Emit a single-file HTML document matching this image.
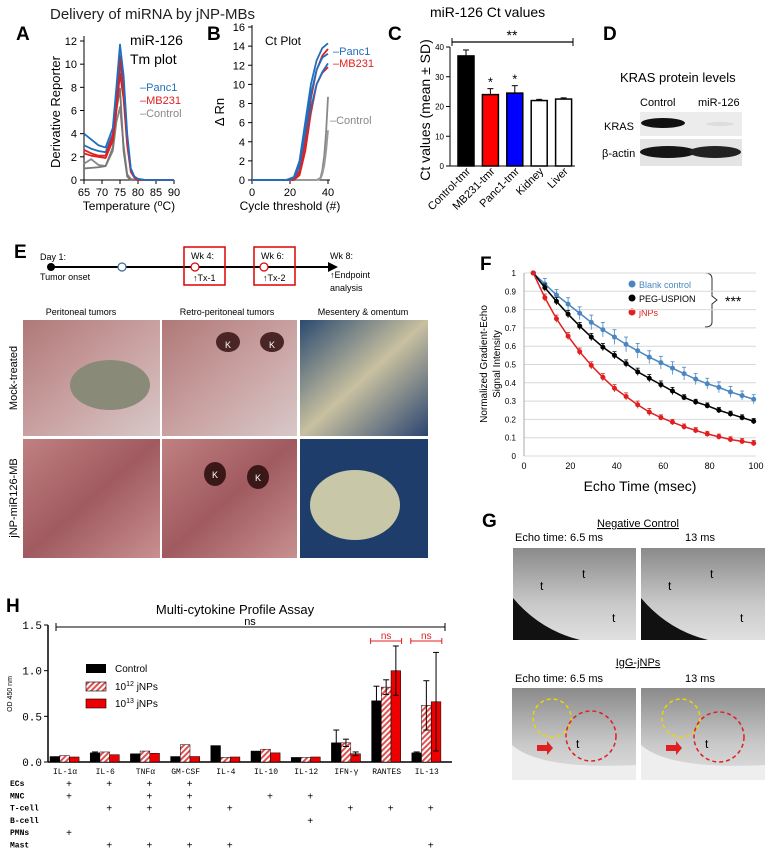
<!DOCTYPE html>
<html><head><meta charset="utf-8"><style>
body{margin:0;background:#fff;}
svg{display:block;font-family:"Liberation Sans",sans-serif;}
</style></head><body>
<svg id="fig" width="771" height="856" viewBox="0 0 771 856" xmlns="http://www.w3.org/2000/svg">
<defs>
<pattern id="hatch" width="4" height="4" patternUnits="userSpaceOnUse" patternTransform="rotate(45)"><rect width="4" height="4" fill="#fff"/><rect width="2" height="4" fill="#e05050"/></pattern>
<linearGradient id="pinkA" x1="0" y1="0" x2="1" y2="1"><stop offset="0" stop-color="#b07878"/><stop offset="0.5" stop-color="#c9a0a0"/><stop offset="1" stop-color="#d8c8c8"/></linearGradient>
<linearGradient id="pinkB" x1="0" y1="0" x2="1" y2="1"><stop offset="0" stop-color="#c08080"/><stop offset="0.5" stop-color="#a05a60"/><stop offset="1" stop-color="#c89090"/></linearGradient>
<linearGradient id="blueBg" x1="0" y1="0" x2="1" y2="1"><stop offset="0" stop-color="#2a4a70"/><stop offset="0.5" stop-color="#c8c0a0"/><stop offset="1" stop-color="#2a4570"/></linearGradient>
<linearGradient id="mri" x1="0" y1="0" x2="0" y2="1"><stop offset="0" stop-color="#8a8a8a"/><stop offset="0.6" stop-color="#c8c8c8"/><stop offset="1" stop-color="#e0e0e0"/></linearGradient>
</defs>

<!-- Header -->
<text x="50" y="19" font-size="15" fill="#222">Delivery of miRNA by jNP-MBs</text>
<text x="16" y="40" font-size="19" font-weight="bold">A</text>
<text x="207" y="40" font-size="19" font-weight="bold">B</text>
<text x="388" y="40" font-size="19" font-weight="bold">C</text>
<text x="603" y="40" font-size="19" font-weight="bold">D</text>
<text x="14" y="258" font-size="19" font-weight="bold">E</text>
<text x="480" y="270" font-size="19" font-weight="bold">F</text>
<text x="482" y="527" font-size="19" font-weight="bold">G</text>
<text x="6" y="612" font-size="19" font-weight="bold">H</text>

<!-- A texts -->
<text x="130" y="45" font-size="14">miR-126</text>
<text x="130" y="64" font-size="14">Tm  plot</text>
<text x="140" y="91" font-size="11" fill="#1f6fbf">–Panc1</text>
<text x="140" y="104" font-size="11" fill="#e02020">–MB231</text>
<text x="140" y="117" font-size="11" fill="#888">–Control</text>
<text transform="translate(60,112) rotate(-90)" text-anchor="middle" font-size="13">Derivative Reporter</text>
<text x="129" y="210" text-anchor="middle" font-size="12">Temperature (<tspan font-size="9" dy="-4">o</tspan><tspan dy="4">C)</tspan></text>
<!-- B texts -->
<text x="265" y="45" font-size="12">Ct Plot</text>
<text x="333" y="55" font-size="11" fill="#1f6fbf">–Panc1</text>
<text x="333" y="67" font-size="11" fill="#e02020">–MB231</text>
<text x="330" y="124" font-size="11" fill="#888">–Control</text>
<text transform="translate(224,112) rotate(-90)" text-anchor="middle" font-size="13">Δ Rn</text>
<text x="290" y="210" text-anchor="middle" font-size="12">Cycle threshold (#)</text>

<!-- C texts -->
<text x="430" y="17" font-size="14">miR-126 Ct values</text>
<text transform="translate(430,110) rotate(-90)" text-anchor="middle" font-size="14">Ct values (mean ± SD)</text>
<line x1="452" y1="42" x2="573" y2="42" stroke="#000" stroke-width="1.2"/><line x1="452" y1="38" x2="452" y2="46" stroke="#000"/><line x1="573" y1="38" x2="573" y2="46" stroke="#000"/>
<text x="512" y="40" text-anchor="middle" font-size="14">**</text>

<!-- D -->
<text x="620" y="82" font-size="13">KRAS protein levels</text>
<text x="640" y="106" font-size="11">Control</text>
<text x="698" y="106" font-size="11">miR-126</text>
<text x="604" y="130" font-size="11">KRAS</text>
<text x="602" y="157" font-size="11">β-actin</text>
<rect x="640" y="112" width="102" height="24" fill="#ececec"/>
<ellipse cx="663" cy="123" rx="22" ry="5" fill="#111"/>
<ellipse cx="720" cy="124" rx="14" ry="2" fill="#ddd"/>
<rect x="640" y="139" width="102" height="27" fill="#e4e4e4"/>
<ellipse cx="668" cy="152" rx="28" ry="6" fill="#151515"/>
<ellipse cx="715" cy="152" rx="26" ry="6" fill="#222"/>

<!-- E timeline -->
<g>
<line x1="52" y1="267" x2="328" y2="267" stroke="#000" stroke-width="2"/>
<polygon points="328,262 338,267 328,272" fill="#000"/>
<circle cx="51" cy="267" r="4" fill="#000"/>
<circle cx="122" cy="267" r="4" fill="#fff" stroke="#3a6a9a" stroke-width="1.2"/>
<circle cx="195" cy="267" r="4" fill="#fff" stroke="#d00" stroke-width="1.2"/>
<circle cx="264" cy="267" r="4" fill="#fff" stroke="#d00" stroke-width="1.2"/>
<rect x="184" y="247" width="41" height="38" fill="none" stroke="#d00" stroke-width="1.5"/>
<rect x="254" y="247" width="41" height="38" fill="none" stroke="#d00" stroke-width="1.5"/>
<text x="40" y="260" font-size="9">Day 1:</text>
<text x="40" y="280" font-size="9">Tumor onset</text>
<text x="191" y="259" font-size="9">Wk 4:</text>
<text x="193" y="281" font-size="9">↑Tx-1</text>
<text x="261" y="259" font-size="9">Wk 6:</text>
<text x="263" y="281" font-size="9">↑Tx-2</text>
<text x="330" y="259" font-size="9">Wk 8:</text>
<text x="330" y="278" font-size="9">↑Endpoint</text>
<text x="330" y="291" font-size="9">analysis</text>
</g>
<text x="81" y="315" text-anchor="middle" font-size="9">Peritoneal tumors</text>
<text x="227" y="315" text-anchor="middle" font-size="9">Retro-peritoneal tumors</text>
<text x="363" y="315" text-anchor="middle" font-size="9">Mesentery &amp; omentum</text>
<text transform="translate(17,378) rotate(-90)" text-anchor="middle" font-size="11">Mock-treated</text>
<text transform="translate(17,498) rotate(-90)" text-anchor="middle" font-size="11">jNP-miR126-MB</text>
<g>
<rect x="23" y="320" width="137" height="116" fill="url(#pinkA)"/>
<ellipse cx="110" cy="385" rx="40" ry="25" fill="#8a8a78"/>
<rect x="162" y="320" width="135" height="116" fill="url(#pinkA)"/>
<ellipse cx="228" cy="342" rx="12" ry="10" fill="#4a2525"/><ellipse cx="272" cy="342" rx="12" ry="10" fill="#4a2525"/>
<rect x="300" y="320" width="128" height="116" fill="url(#blueBg)"/>
<rect x="23" y="439" width="137" height="119" fill="url(#pinkB)"/>
<rect x="162" y="439" width="135" height="119" fill="url(#pinkB)"/>
<ellipse cx="215" cy="474" rx="11" ry="12" fill="#3a1818"/><ellipse cx="258" cy="477" rx="11" ry="12" fill="#3a1818"/>
<rect x="300" y="439" width="128" height="119" fill="#1e3d6b"/>
<ellipse cx="355" cy="505" rx="45" ry="35" fill="#c8c8a8"/>
<text x="225" y="348" font-size="9" fill="#fff">K</text><text x="269" y="348" font-size="9" fill="#fff">K</text>
<text x="212" y="478" font-size="9" fill="#fff">K</text><text x="255" y="481" font-size="9" fill="#fff">K</text>
</g>

<!-- F texts -->
<text transform="translate(487,364) rotate(-90)" text-anchor="middle" font-size="10">Normalized Gradient-Echo</text>
<text transform="translate(500,364) rotate(-90)" text-anchor="middle" font-size="10">Signal Intensity</text>
<text x="640" y="491" text-anchor="middle" font-size="14">Echo Time (msec)</text>
<g>
<circle cx="632" cy="284" r="3.5" fill="#4a86c0"/><text x="639" y="288" font-size="9" fill="#4a86c0">Blank control</text>
<circle cx="632" cy="298" r="3.5" fill="#000"/><text x="639" y="302" font-size="9">PEG-USPION</text>
<circle cx="632" cy="312" r="3.5" fill="#e02020"/><text x="639" y="316" font-size="9" fill="#e02020">jNPs</text>
</g>
<path d="M705,273 Q712,273 712,279 L712,296 L717,300 L712,304 L712,322 Q712,327 705,327" fill="none" stroke="#333"/>
<text x="725" y="306" font-size="14">***</text>

<!-- G -->
<text x="638" y="527" text-anchor="middle" font-size="11" text-decoration="underline">Negative Control</text>
<text x="515" y="541" font-size="11">Echo time: 6.5 ms</text>
<text x="685" y="541" font-size="11">13 ms</text>
<text x="638" y="666" text-anchor="middle" font-size="11" text-decoration="underline">IgG-jNPs</text>
<text x="515" y="682" font-size="11">Echo time: 6.5 ms</text>
<text x="685" y="682" font-size="11">13 ms</text>
<g>
<rect x="513" y="548" width="123" height="92" fill="url(#mri)"/><path d="M513,598 Q540,630 580,640 L513,640Z" fill="#111"/>
<rect x="641" y="548" width="124" height="92" fill="url(#mri)"/><path d="M641,598 Q668,630 708,640 L641,640Z" fill="#111"/>
<text x="540" y="590" font-size="12">t</text><text x="582" y="578" font-size="12">t</text><text x="612" y="622" font-size="12">t</text>
<text x="668" y="590" font-size="12">t</text><text x="710" y="578" font-size="12">t</text><text x="740" y="622" font-size="12">t</text>
<rect x="512" y="688" width="124" height="92" fill="url(#mri)"/><path d="M512,745 Q540,770 636,765 L636,780 L512,780Z" fill="#eee"/>
<rect x="641" y="688" width="124" height="92" fill="url(#mri)"/><path d="M641,745 Q669,770 765,765 L765,780 L641,780Z" fill="#eee"/>
<circle cx="552" cy="718" r="19" fill="none" stroke="#e6d800" stroke-width="1.5" stroke-dasharray="4,3"/>
<circle cx="591" cy="736" r="25" fill="none" stroke="#e02020" stroke-width="1.5" stroke-dasharray="4,3"/>
<circle cx="681" cy="718" r="19" fill="none" stroke="#e6d800" stroke-width="1.5" stroke-dasharray="4,3"/>
<circle cx="719" cy="737" r="25" fill="none" stroke="#e02020" stroke-width="1.5" stroke-dasharray="4,3"/>
<polygon points="537,745 547,745 547,741 553,748 547,755 547,751 537,751" fill="#e02020"/>
<polygon points="666,745 676,745 676,741 682,748 676,755 676,751 666,751" fill="#e02020"/>
<text x="576" y="748" font-size="12">t</text><text x="705" y="748" font-size="12">t</text>
</g>

<!-- H texts -->
<text x="235" y="614" text-anchor="middle" font-size="13">Multi-cytokine Profile Assay</text>
<text transform="translate(12,694) rotate(-90)" text-anchor="middle" font-size="7">OD 450 nm</text>
<line x1="56" y1="627" x2="445" y2="627" stroke="#000"/><line x1="56" y1="623" x2="56" y2="631" stroke="#000"/><line x1="445" y1="623" x2="445" y2="631" stroke="#000"/>
<text x="250" y="625" text-anchor="middle" font-size="11">ns</text>
<g>
<rect x="86" y="664" width="20" height="9" fill="#000"/><text x="115" y="672" font-size="10">Control</text>
<rect x="86" y="682" width="20" height="9" fill="url(#hatch)" stroke="#000" stroke-width="0.6"/><text x="115" y="690" font-size="10">10<tspan font-size="7" dy="-4">12</tspan><tspan dy="4"> jNPs</tspan></text>
<rect x="86" y="699" width="20" height="9" fill="#e00" stroke="#000" stroke-width="0.6"/><text x="115" y="707" font-size="10">10<tspan font-size="7" dy="-4">13</tspan><tspan dy="4"> jNPs</tspan></text>
</g>

<g id="charts"></g>
</svg>
<script>
const NS="http://www.w3.org/2000/svg";
const root=document.getElementById('charts');
function el(tag,attrs,parent){const e=document.createElementNS(NS,tag);for(const k in attrs)e.setAttribute(k,attrs[k]);(parent||root).appendChild(e);return e;}

// ---- Panel A data ----
const tmTemps=[65,67,69,71,73,74,75,76,77,78,79,80,82,90];
const tmBlue1=[4,3.5,3.0,2.8,4.5,8,11.7,9,4,1,0.3,0.1,0,0];
const tmBlue2=[3,2.7,2.5,2.4,4,7,10,8,3.5,0.9,0.2,0.1,0,0];
const tmRed1=[2.6,2.3,2.1,2.1,3.8,7,10.7,8,3.4,0.8,0.2,0,0,0];
const tmRed2=[2.3,2.1,2.0,1.9,3.4,6,9.2,7,3,0.7,0.2,0,0,0];
const tmGray1=[1.4,1.8,1.3,1.2,2.5,5,6.3,3,0.5,0.1,0,0,0,0];
const tmGray2=[1.0,1.05,1.1,1.2,2.8,6,7.9,2.5,0.3,0,0,0,0,0];
const aYTicks=[0,2,4,6,8,10,12];
const aXTicks=[65,70,75,80,85,90];
// ---- Panel B data ----
const ctCycles=[0,18,22,25,28,31,34,37,40];
const ctBlue1=[0,0,0.3,2,6,10,12.5,13.8,14.3];
const ctBlue2=[0,0,0.2,1.5,5,9,11.5,12.8,13.2];
const ctBlue3=[0,0,0.1,1,4,7.5,10,11.3,12.2];
const ctRed1=[0,0,0.1,0.8,4,8.5,11.5,13,13.7];
const ctRed2=[0,0,0,0.5,3,7,10,11.2,11.8];
const ctCtrlCycles=[0,34,36,37,38,39,40];
const ctGray1=[0,0,0.2,1,2.5,5,8.7];
const ctGray2=[0,0,0.1,0.6,1.5,3,5.2];
const bYTicks=[0,2,4,6,8,10,12,14,16];
const bXTicks=[0,20,40];
// ---- Panel C data ----
const cCats=["Control-tmr","MB231-tmr","Panc1-tmr","Kidney","Liver"];
const cVals=[37,24,24.5,22,22.5];
const cErr=[2,2,2.5,0.4,0.4];
const cColors=["#000","#f00","#00f","#fff","#fff"];
const cStars=["","*","*","",""];
const cYTicks=[0,10,20,30,40];
// ---- Panel F data ----
const fTimes=[4,9,14,19,24,29,34,39,44,49,54,59,64,69,74,79,84,89,94,99];
const fBlank=[1,.94,.88,.83,.78,.73,.69,.65,.61,.575,.54,.51,.48,.45,.42,.395,.375,.35,.33,.31];
const fPeg=[1,.92,.845,.775,.71,.65,.595,.55,.505,.46,.425,.39,.355,.32,.295,.275,.25,.23,.21,.19];
const fJnp=[1,.865,.75,.655,.57,.495,.43,.37,.325,.28,.24,.21,.185,.16,.14,.12,.105,.09,.08,.07];
const fBlankErr=[0,.03,.03,.035,.035,.04,.04,.04,.04,.04,.035,.035,.035,.035,.03,.03,.03,.03,.025,.025];
const fPegErr=[0,.02,.02,.02,.02,.02,.02,.02,.02,.02,.02,.02,.02,.015,.015,.015,.015,.015,.015,.015];
const fJnpErr=[0,.02,.02,.02,.02,.02,.02,.02,.02,.02,.02,.015,.015,.015,.015,.015,.015,.015,.015,.015];
const fYTicks=[0,.1,.2,.3,.4,.5,.6,.7,.8,.9,1];
const fXTicks=[0,20,40,60,80,100];
// ---- Panel H data ----
const hCats=["IL-1\u03b1","IL-6","TNF\u03b1","GM-CSF","IL-4","IL-10","IL-12","IFN-\u03b3","RANTES","IL-13"];
const hControl=[.06,.10,.09,.06,.18,.12,.05,.21,.67,.10];
const hLow=[.07,.11,.12,.19,.05,.14,.05,.21,.82,.62];
const hHigh=[.055,.08,.095,.06,.055,.10,.055,.09,1.0,.66];
const hControlErr=[0,.01,0,0,0,0,0,.14,.16,.01];
const hLowErr=[0,0,0,0,0,0,0,.04,.08,.27];
const hHighErr=[0,0,0,0,0,0,0,.02,.27,.54];
const hYTicks=[0.0,0.5,1.0,1.5];
const hRows=["ECs","MNC","T-cell","B-cell","PMNs","Mast"];
const hMarks=[[0,1,2,3],[0,2,3,5,6],[1,2,3,4,7,8,9],[6],[0],[1,2,3,4,9]];

function lin(d0,d1,r0,r1){return v=>r0+(v-d0)/(d1-d0)*(r1-r0);}

// ---- Draw A ----
{const x=lin(65,90,84,174), y=lin(0,12,180,41);
 const g=el('g',{});
 
 
 el('line',{x1:84,y1:36,x2:84,y2:180,stroke:'#000'},g);
 el('line',{x1:84,y1:180,x2:174,y2:180,stroke:'#000'},g);
 aYTicks.forEach(t=>{el('line',{x1:80,x2:84,y1:y(t),y2:y(t),stroke:'#000'},g);const tx=el('text',{x:77,y:y(t)+4,'text-anchor':'end','font-size':11},g);tx.textContent=t;});
 aXTicks.forEach(t=>{el('line',{x1:x(t),x2:x(t),y1:180,y2:184,stroke:'#000'},g);const tx=el('text',{x:x(t),y:196,'text-anchor':'middle','font-size':11},g);tx.textContent=t;});
 [[tmGray1,'#888'],[tmGray2,'#777'],[tmRed2,'#e02020'],[tmBlue2,'#1f6fbf'],[tmRed1,'#e02020'],[tmBlue1,'#1f6fbf']].forEach(([s,c])=>{
  const p=el('polyline',{points:tmTemps.map((t,i)=>x(t)+','+y(s[i])).join(' '),fill:'none',stroke:c,'stroke-width':1.8,'stroke-linejoin':'round'},g);
  
  
 });}
// ---- Draw B ----
{const x=lin(0,40,252,328), y=lin(0,16,180,27);
 const g=el('g',{});
 
 
 el('line',{x1:252,y1:25,x2:252,y2:180,stroke:'#000'},g);
 el('line',{x1:252,y1:180,x2:330,y2:180,stroke:'#000'},g);
 bYTicks.forEach(t=>{el('line',{x1:248,x2:252,y1:y(t),y2:y(t),stroke:'#000'},g);const tx=el('text',{x:245,y:y(t)+4,'text-anchor':'end','font-size':11},g);tx.textContent=t;});
 bXTicks.forEach(t=>{el('line',{x1:x(t),x2:x(t),y1:180,y2:184,stroke:'#000'},g);const tx=el('text',{x:x(t),y:196,'text-anchor':'middle','font-size':11},g);tx.textContent=t;});
 [[ctGray1,'#888'],[ctGray2,'#999']].forEach(([s,c])=>{
  const p=el('polyline',{points:ctCtrlCycles.map((t,i)=>x(t)+','+y(s[i])).join(' '),fill:'none',stroke:c,'stroke-width':1.8},g);
  
  
 });
 [[ctRed2,'#e02020'],[ctBlue3,'#1f6fbf'],[ctRed1,'#e02020'],[ctBlue2,'#1f6fbf'],[ctBlue1,'#1f6fbf']].forEach(([s,c])=>{
  const p=el('polyline',{points:ctCycles.map((t,i)=>x(t)+','+y(s[i])).join(' '),fill:'none',stroke:c,'stroke-width':1.8,'stroke-linejoin':'round'},g);
  
  
 });}
// ---- Draw C ----
{const y=lin(0,40,166,47), x0=450, step=24.4, bw=16;
 const g=el('g',{});
 
 
 el('line',{x1:x0,y1:47,x2:x0,y2:166,stroke:'#000'},g);
 el('line',{x1:x0,y1:166,x2:575,y2:166,stroke:'#000'},g);
 cYTicks.forEach(t=>{el('line',{x1:x0-4,x2:x0,y1:y(t),y2:y(t),stroke:'#000'},g);const tx=el('text',{x:x0-6,y:y(t)+3,'text-anchor':'end','font-size':8},g);tx.textContent=t;});
 cCats.forEach((c,i)=>{const cx=x0+16+i*step;
  const r=el('rect',{x:cx-bw/2,y:y(cVals[i]),width:bw,height:166-y(cVals[i]),fill:cColors[i],stroke:'#000','stroke-width':1.5},g);
  
  
  el('line',{x1:cx,x2:cx,y1:y(cVals[i]),y2:y(cVals[i]+cErr[i]),stroke:'#000'},g);
  el('line',{x1:cx-3,x2:cx+3,y1:y(cVals[i]+cErr[i]),y2:y(cVals[i]+cErr[i]),stroke:'#000'},g);
  if(cStars[i]){const s=el('text',{x:cx,y:y(cVals[i]+cErr[i])-2,'text-anchor':'middle','font-size':13},g);s.textContent=cStars[i];}
  const t=el('text',{transform:`translate(${cx+5},172) rotate(-45)`,'text-anchor':'end','font-size':11},g);t.textContent=c;
 });}
// ---- Draw F ----
{const x=lin(0,100,524,756), y=lin(0,1,456,273);
 const g=el('g',{});
 
 
 fYTicks.forEach(t=>{el('line',{x1:524,x2:756,y1:y(t),y2:y(t),stroke:'#d8d8d8'},g);const tx=el('text',{x:516,y:y(t)+3,'text-anchor':'end','font-size':8},g);tx.textContent=+t.toFixed(1);});
 el('line',{x1:524,x2:524,y1:273,y2:456,stroke:'#aaa'},g);
 fXTicks.forEach(t=>{const tx=el('text',{x:x(t),y:469,'text-anchor':'middle','font-size':9},g);tx.textContent=t;});
 [[fBlank,fBlankErr,'#4a86c0','blank'],[fPeg,fPegErr,'#000','peg'],[fJnp,fJnpErr,'#e02020','jnp']].forEach(([s,e,c,n])=>{
  const p=el('polyline',{points:fTimes.map((t,i)=>x(t)+','+y(s[i])).join(' '),fill:'none',stroke:c,'stroke-width':1.5},g);
  
  
  fTimes.forEach((t,i)=>{
   el('line',{x1:x(t),x2:x(t),y1:y(s[i]-e[i]),y2:y(s[i]+e[i]),stroke:c,'stroke-width':0.8},g);
   el('line',{x1:x(t)-2,x2:x(t)+2,y1:y(s[i]+e[i]),y2:y(s[i]+e[i]),stroke:c,'stroke-width':0.8},g);
   const d=el('circle',{cx:x(t),cy:y(s[i]),r:2.5,fill:c},g);
   
   
  });
 });}
// ---- Draw H ----
{const y=lin(0,1.5,762,625), x0=50, gw=40.2, bw=9.7;
 const g=el('g',{});
 
 
 el('line',{x1:x0-2,y1:625,x2:x0-2,y2:762,stroke:'#000','stroke-width':1.5},g);
 el('line',{x1:x0-2,y1:762,x2:452,y2:762,stroke:'#000','stroke-width':1.5},g);
 hYTicks.forEach(t=>{el('line',{x1:x0-6,x2:x0-2,y1:y(t),y2:y(t),stroke:'#000'},g);const tx=el('text',{x:x0-8,y:y(t)+4,'text-anchor':'end','font-size':11,'font-family':'Liberation Mono'},g);tx.textContent=t.toFixed(1);});
 hCats.forEach((c,i)=>{const gx=x0+i*gw;
  [[hControl,hControlErr,'#000'],[hLow,hLowErr,'url(#hatch)'],[hHigh,hHighErr,'#e00']].forEach(([s,e,f],j)=>{
   const bx=gx+j*bw;
   const r=el('rect',{x:bx,y:y(s[i]),width:bw,height:762-y(s[i]),fill:f,stroke:'#000','stroke-width':0.5},g);
   
   
   if(e[i]>0){const cx=bx+bw/2;el('line',{x1:cx,x2:cx,y1:y(s[i]-e[i]),y2:y(s[i]+e[i]),stroke:'#000','stroke-width':1},g);
    el('line',{x1:cx-3,x2:cx+3,y1:y(s[i]+e[i]),y2:y(s[i]+e[i]),stroke:'#000'},g);el('line',{x1:cx-3,x2:cx+3,y1:y(s[i]-e[i]),y2:y(s[i]-e[i]),stroke:'#000'},g);}
  });
  const t=el('text',{x:gx+15,y:774,'text-anchor':'middle','font-size':8,'font-family':'Liberation Mono'},g);t.textContent=c;
 });
 [8,9].forEach(i=>{const a=x0+i*gw-1,b=a+31;
  el('line',{x1:a,x2:b,y1:641,y2:641,stroke:'#e02020'},g);el('line',{x1:a,x2:a,y1:638,y2:644,stroke:'#e02020'},g);el('line',{x1:b,x2:b,y1:638,y2:644,stroke:'#e02020'},g);
  const t=el('text',{x:(a+b)/2,y:639,'text-anchor':'middle','font-size':10,fill:'#e02020'},g);t.textContent='ns';});
 hRows.forEach((r,ri)=>{const ry=783+ri*12.3;
  const t=el('text',{x:10,y:ry+3,'font-size':8,'font-weight':'bold','font-family':'Liberation Mono'},g);t.textContent=r;
  hMarks[ri].forEach(i=>{const m=el('text',{x:x0+i*gw+19,y:ry+4,'text-anchor':'middle','font-size':10,'font-family':'Liberation Mono'},g);m.textContent='+';});
 });}
</script>
</body></html>
